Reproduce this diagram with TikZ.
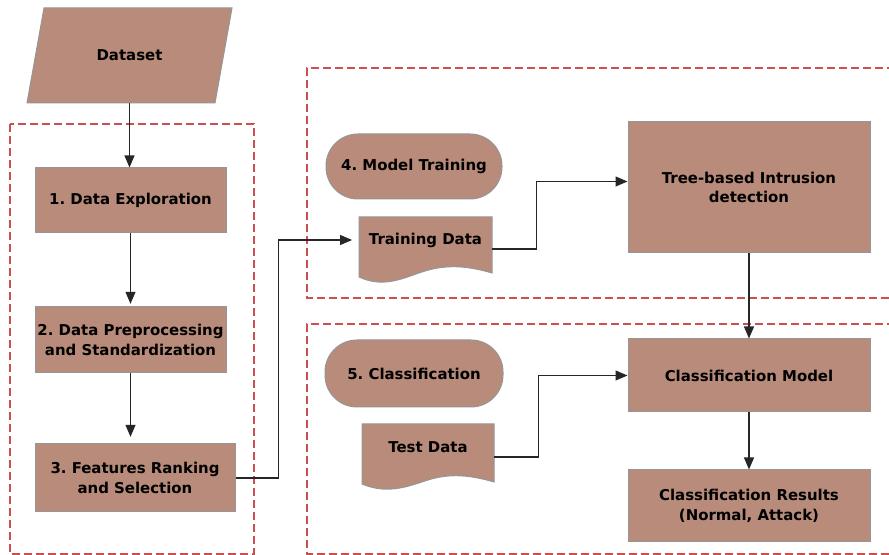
\documentclass[tikz,border=0pt]{standalone}
\usepackage{fontspec}
\setmainfont{DejaVu Sans}
\usetikzlibrary{arrows.meta,calc}

\definecolor{boxfill}{RGB}{184,139,122}
\definecolor{boxline}{RGB}{150,150,150}
\definecolor{dashred}{RGB}{204,78,78}

\begin{document}
\frenchspacing
\begin{tikzpicture}[x=0.75pt,y=0.75pt,yscale=-1,xscale=1,
  txt/.style={inner sep=0pt,align=center,font=\bfseries\fontsize{11.2}{14.5}\selectfont},
  stage/.style={txt,draw=boxline,fill=boxfill,line width=0.75pt,minimum width=143.25pt},
  terminal/.style={stage,rounded corners=24pt},
  group/.style={draw=dashred,line width=2.1pt,dash pattern=on 6pt off 3pt},
  flow/.style={draw=black!85,line width=0.8pt,-{Triangle[length=9pt,width=7.5pt]}}]
\useasboundingbox (0,0) rectangle (889,555);

%Shape: Dashed groups
\draw[group] (10,124) rectangle (254,554);
\draw[group] (895,68) -- (307,68) -- (307,298) -- (895,298);
\draw[group] (895,324) -- (307,324) -- (307,554) -- (895,554);

%Shape: Parallelogram
\draw[draw=boxline,fill=boxfill,line width=0.75pt] (44,8) -- (232,8) -- (215,103) -- (27,103) -- cycle;
%Shape: Document
\draw[draw=boxline,fill=boxfill,line width=0.75pt] (359,217) -- (492,217) -- (492,273) .. controls (465,265) and (445,265) .. (425,271) .. controls (405,277) and (385,289) .. (359,277) -- cycle;
%Shape: Document
\draw[draw=boxline,fill=boxfill,line width=0.75pt] (362,424) -- (494,424) -- (494,482) .. controls (467,474) and (447,474) .. (428,480) .. controls (409,486) and (388,495) .. (362,484) -- cycle;

% Text Node
\node[txt,minimum height=71.25pt] (dataset) at (129.5,55.5) {Dataset};
% left column
\node[stage,minimum height=48.75pt] (explore) at (130.5,200.5) {1. Data Exploration};
\node[stage,minimum height=49.5pt] (prep) at (130.5,340) {2. Data Preprocessing\\and Standardization};
\node[stage,minimum width=150pt,minimum height=51pt] (select) at (135,478) {3. Features Ranking\\and Selection};

% Model training
\node[terminal,minimum width=132pt,minimum height=48.75pt] (training) at (414,166.5) {4. Model Training};
\node[txt,minimum width=99.75pt,minimum height=34.5pt] (train) at (425.5,240) {Training Data};
\node[stage,minimum width=181.5pt,minimum height=98.25pt] (tree) at (749,187.5) {Tree-based Intrusion\\detection};

% Classification
\node[terminal,minimum width=133.5pt,minimum height=50.25pt] (classify) at (414,373.5) {5. Classification};
\node[txt,minimum width=99pt,minimum height=34.5pt] (test) at (428,447) {Test Data};
\node[stage,minimum width=181.5pt,minimum height=54.75pt] (model) at (749,375.5) {Classification Model};
\node[stage,minimum width=181.5pt,minimum height=54pt] (result) at (749,506) {Classification Results\\(Normal, Attack)};

%Straight Lines
\draw[flow] (dataset.south) -- (dataset.south |- explore.north);
\draw[flow,shorten >=2pt] (explore) -- (prep);
\draw[flow,shorten >=5pt] (prep.south) -- (prep.south |- select.north);
\draw[flow,shorten >=5pt] (select.east) -- ++(43,0) |- (train.west);
\draw[flow] ($(train.east)+(0,9)$) -- ++(44,0) |- ($(tree.west)+(0,-6)$);
\draw[flow] (tree) -- (model);
\draw[flow] ($(test.east)+(0,10)$) -- ++(44,0) |- (model.west);
\draw[flow] (model) -- (result);

\end{tikzpicture}
\end{document}
